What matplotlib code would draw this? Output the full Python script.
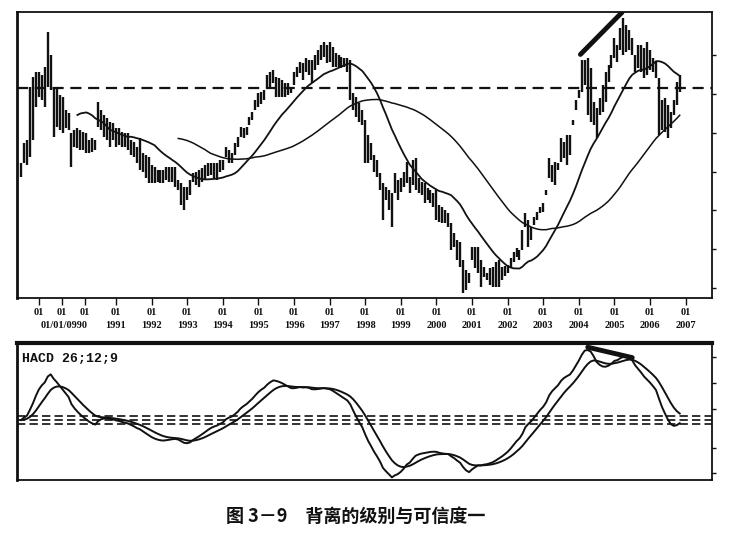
import numpy as np
import pandas as pd
import matplotlib
matplotlib.use('Agg')
import matplotlib.pyplot as plt
from matplotlib import transforms

# 月线高低点（从图上估读，单位为图上价格刻度）
high = [137, 157, 160, 213, 223, 228, 228, 225,
        233, 268, 245, 213, 213, 205, 203, 190, 187, 167, 170, 172,
        170, 168, 167, 160, 162, 160, 198, 190, 185, 182, 178, 177,
        172, 172, 168, 167, 167, 160, 158, 153, 162, 147, 145, 143,
        135, 133, 130, 130, 130, 133, 133, 133, 133, 120, 117, 113,
        113, 120, 127, 128, 130, 132, 135, 137, 137, 137, 137, 140,
        140, 153, 150, 147, 157, 163, 173, 172, 173, 183, 188, 200,
        207, 208, 210, 225, 228, 230, 223, 222, 220, 217, 217, 213,
        228, 233, 238, 237, 242, 240, 240, 245, 250, 255, 258, 255,
        258, 253, 247, 245, 243, 242, 242, 240, 207, 203, 197, 190,
        180, 165, 157, 145, 140, 127, 117, 113, 110, 107, 127, 120,
        122, 128, 138, 123, 140, 142, 122, 118, 117, 112, 110, 107,
        110, 95, 93, 90, 87, 77, 67, 60, 58, 40, 30, 27,
        53, 53, 53, 40, 33, 27, 32, 33, 38, 40, 33, 34,
        35, 42, 48, 52, 50, 70, 87, 80, 73, 83, 88, 93,
        97, 110, 142, 135, 138, 137, 162, 158, 165, 165, 180, 200,
        210, 240, 240, 242, 232, 198, 192, 202, 215, 228, 235, 245,
        262, 255, 272, 282, 275, 270, 262, 245, 255, 255, 252, 258,
        250, 242, 238, 222, 200, 202, 195, 188, 200, 218, 225]
low = [123, 137, 135, 143, 160, 193, 203, 200,
       193, 213, 210, 163, 173, 170, 167, 172, 170, 133, 153, 152,
       150, 150, 147, 147, 148, 150, 173, 170, 163, 160, 153, 160,
       153, 155, 153, 153, 150, 145, 143, 137, 130, 128, 122, 117,
       117, 117, 118, 117, 117, 120, 118, 118, 113, 110, 95, 90,
       100, 105, 118, 115, 113, 118, 120, 124, 125, 122, 120, 128,
       130, 143, 137, 137, 145, 153, 163, 162, 165, 175, 180, 190,
       193, 196, 200, 212, 213, 217, 203, 203, 203, 203, 205, 207,
       215, 223, 227, 220, 228, 225, 217, 230, 235, 240, 243, 237,
       238, 233, 233, 233, 232, 233, 228, 200, 190, 183, 178, 175,
       137, 137, 140, 128, 123, 110, 80, 100, 90, 73, 107, 100,
       108, 113, 117, 107, 115, 110, 107, 105, 97, 100, 97, 93,
       80, 78, 77, 77, 73, 50, 53, 40, 33, 7, 10, 17,
       40, 32, 27, 13, 23, 20, 15, 13, 13, 13, 20, 24,
       27, 32, 38, 43, 40, 50, 73, 53, 60, 75, 80, 87,
       88, 105, 122, 118, 115, 130, 138, 142, 135, 145, 175, 190,
       202, 208, 215, 185, 178, 175, 162, 185, 188, 198, 218, 232,
       242, 238, 250, 245, 248, 250, 245, 228, 232, 228, 222, 225,
       230, 228, 222, 165, 170, 168, 162, 172, 185, 195, 208]
start_month = '1988-05-01'
ref_level = 212                       # 水平虚线
price_div = ['2004-02-01', '2005-04-01']   # 价格顶背离连线
macd_div = ['2004-04-01', '2005-07-01']    # MACD 背离连线

tick_pos = [1988.84, 1989.48, 1990.13] + list(range(1991, 2008))
tick_lab = ['01', '01', '01'] + ['01\n%d' % y for y in range(1991, 2008)]
first_date = '01/01/0990'
caption = '图 3－9　背离的级别与可信度一'

# 计算均线与 MACD
months = pd.date_range(start_month, periods=len(high), freq='MS')
t = np.asarray(months.year + (months.month - 1) / 12.0)
hi = np.array(high, float)
lo = np.array(low, float)
mid = pd.Series((hi + lo) / 2)
ma_fast = mid.rolling(20).mean()
ma_slow = mid.rolling(54).mean()
ema12 = mid.ewm(span=12, adjust=False).mean()
ema26 = mid.ewm(span=26, adjust=False).mean()
macd = ema12 - ema26
signal = macd.ewm(span=9, adjust=False).mean()

ink = '#111111'
W, H = 731, 546
fig = plt.figure(figsize=(W / 100, H / 100), dpi=100)
ax1 = fig.add_axes([17 / W, 1 - 298 / H, 695 / W, 286 / H])
ax2 = fig.add_axes([17 / W, 1 - 480 / H, 695 / W, 137 / H])

# 上图：K线 + 均线
ax1.vlines(t, lo, hi, color=ink, lw=1.7)
ax1.plot(t, ma_fast, color=ink, lw=1.3)
ax1.plot(t, ma_slow, color=ink, lw=1.1)
ax1.axhline(ref_level, color=ink, lw=1.6, ls=(0, (5, 3)))
idx = [months.get_loc(pd.Timestamp(d)) for d in price_div]
off = transforms.offset_copy(ax1.transData, fig=fig, x=-1, y=4, units='points')
ax1.plot(t[idx], hi[idx], color=ink, lw=3.5, transform=off, solid_capstyle='round')

ax1.set_xlim(1988.22, 2007.74)
ax1.set_ylim(2, 288)
ax1.set_xticks(tick_pos)
ax1.set_xticklabels(tick_lab, fontsize=7.5, fontweight='bold',
                    family='Liberation Serif', linespacing=1.55)
ax1.tick_params(axis='x', direction='out', length=5, width=1, pad=2, colors=ink)
ax1.annotate(first_date, xy=(tick_pos[1], 0), xycoords=('data', 'axes fraction'),
             xytext=(1.5, -19.5), textcoords='offset points', ha='center', va='center',
             fontsize=7.5, fontweight='bold', family='Liberation Serif', color=ink)
ax1.yaxis.tick_right()
ax1.set_yticks([12, 51, 90, 128, 167, 206, 245])
ax1.set_yticklabels([])
ax1.tick_params(axis='y', direction='out', length=3, width=1, colors=ink)

# 下图：MACD
top = macd.max()
ax2.plot(t, macd, color=ink, lw=1.4)
ax2.plot(t, signal, color=ink, lw=1.4)
for k in (-1, 0, 1):
    ax2.axhline(k * 0.057 * top, color=ink, lw=1.2, ls=(0, (5, 2.5)))
idx2 = [months.get_loc(pd.Timestamp(d)) for d in macd_div]
off2 = transforms.offset_copy(ax2.transData, fig=fig, x=0, y=2, units='points')
ax2.plot(t[idx2], macd.values[idx2], color=ink, lw=3.5, transform=off2,
         solid_capstyle='round')
ax2.text(0.007, 0.935, 'HACD 26;12;9', transform=ax2.transAxes, ha='left', va='top',
         fontsize=9.5, family='Liberation Mono', fontweight='bold', color=ink)

ax2.set_xlim(1988.22, 2007.74)
ax2.set_ylim(-0.857 * top, 1.1 * top)
ax2.set_xticks([])
ax2.yaxis.tick_right()
ax2.set_yticks([top * k / 70 for k in (63, 37, 11, -28, -53)])
ax2.set_yticklabels([])
ax2.tick_params(axis='y', direction='out', length=3, width=1, colors=ink)

for ax in (ax1, ax2):
    for s in ax.spines.values():
        s.set_color(ink)
        s.set_linewidth(1.3)
    ax.spines['left'].set_linewidth(2)
ax2.spines['top'].set_linewidth(3)

fig.text(356 / W, 1 - 516 / H, caption, ha='center', va='center', fontsize=13,
         fontweight='bold', family=['Noto Sans CJK SC', 'DejaVu Sans'], color=ink)

fig.savefig('out.png', dpi=100)
